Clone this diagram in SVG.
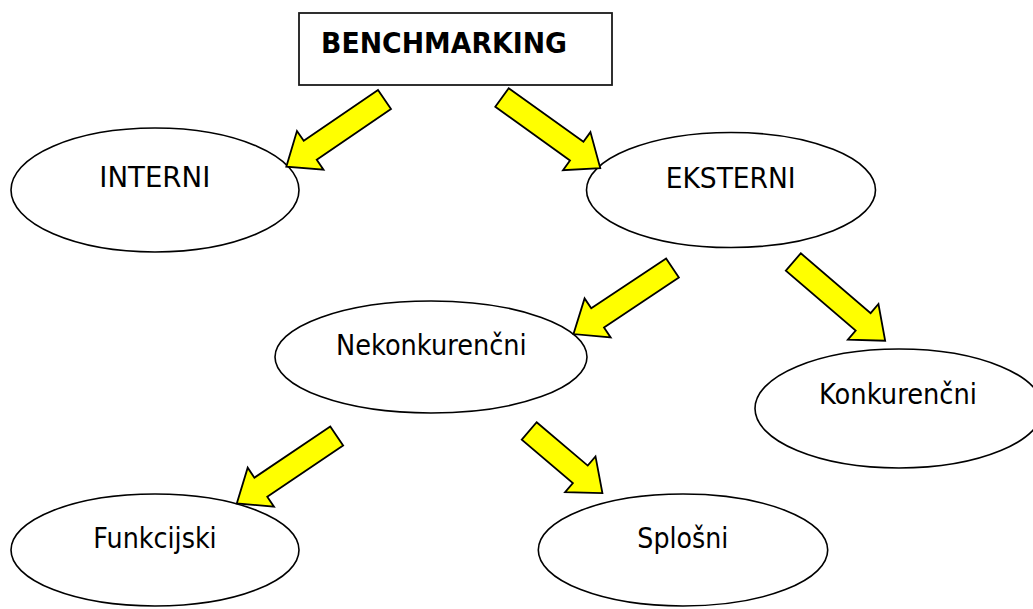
<svg xmlns="http://www.w3.org/2000/svg" width="1033" height="609" viewBox="0 0 1033 609">
<style>
.bg{fill:#ffffff}
.node{fill:#ffffff;stroke:#000000;stroke-width:1.6}
.box{fill:#ffffff;stroke:#1a1a1a;stroke-width:1.8}
.lbl{font-family:"DejaVu Sans","Liberation Sans",sans-serif;font-size:28.5px;fill:#000000}
.bold{font-weight:bold;font-size:29px}
.arrow{fill:#ffff00;stroke:#000000;stroke-width:1.8;stroke-linejoin:miter}
</style>
<rect class="bg" x="0" y="0" width="1033" height="609"/>
<g id="node-benchmarking">
<rect class="box" x="299" y="13" width="313" height="72"/>
<text class="lbl bold" x="321" y="53" textLength="246" lengthAdjust="spacingAndGlyphs">BENCHMARKING</text>
</g>
<g id="node-interni">
<ellipse class="node" cx="155" cy="190" rx="144" ry="62"/>
<text class="lbl" x="99.3" y="186.7" textLength="111" lengthAdjust="spacingAndGlyphs">INTERNI</text>
</g>
<g id="node-eksterni">
<ellipse class="node" cx="731" cy="190" rx="144.5" ry="57.5"/>
<text class="lbl" x="665.7" y="187.7" textLength="130" lengthAdjust="spacingAndGlyphs">EKSTERNI</text>
</g>
<g id="node-nekonkurencni">
<ellipse class="node" cx="431" cy="357" rx="156" ry="56"/>
<text class="lbl" x="336" y="355" textLength="190.7" lengthAdjust="spacingAndGlyphs">Nekonkurenčni</text>
</g>
<g id="node-konkurencni">
<ellipse class="node" cx="899" cy="408.5" rx="144" ry="59.5"/>
<text class="lbl" x="819" y="404" textLength="158" lengthAdjust="spacingAndGlyphs">Konkurenčni</text>
</g>
<g id="node-funkcijski">
<ellipse class="node" cx="155" cy="550" rx="144" ry="56"/>
<text class="lbl" x="93.3" y="547.7" textLength="123.4" lengthAdjust="spacingAndGlyphs">Funkcijski</text>
</g>
<g id="node-splosni">
<ellipse class="node" cx="683" cy="550" rx="144.7" ry="56"/>
<text class="lbl" x="637.3" y="547.7" textLength="91" lengthAdjust="spacingAndGlyphs">Splošni</text>
</g>
<g id="connectors">
<polygon class="arrow" transform="translate(384.5,99.5) rotate(145.6)" points="0,-11.5 90,-11.5 90,-23.5 119,0 90,23.5 90,11.5 0,11.5"/>
<polygon class="arrow" transform="translate(502,97.5) rotate(35.7)" points="0,-11.5 92,-11.5 92,-23.5 121,0 92,23.5 92,11.5 0,11.5"/>
<polygon class="arrow" transform="translate(672.5,268) rotate(146.3)" points="0,-11.5 90,-11.5 90,-23.5 119,0 90,23.5 90,11.5 0,11.5"/>
<polygon class="arrow" transform="translate(793.3,262) rotate(40.6)" points="0,-11.5 92,-11.5 92,-23.5 121,0 92,23.5 92,11.5 0,11.5"/>
<polygon class="arrow" transform="translate(336.7,436) rotate(146)" points="0,-11.5 91.5,-11.5 91.5,-23.5 120.5,0 91.5,23.5 91.5,11.5 0,11.5"/>
<polygon class="arrow" transform="translate(529.2,431) rotate(40.3)" points="0,-11.5 67,-11.5 67,-23.5 96,0 67,23.5 67,11.5 0,11.5"/>
</g>
</svg>
